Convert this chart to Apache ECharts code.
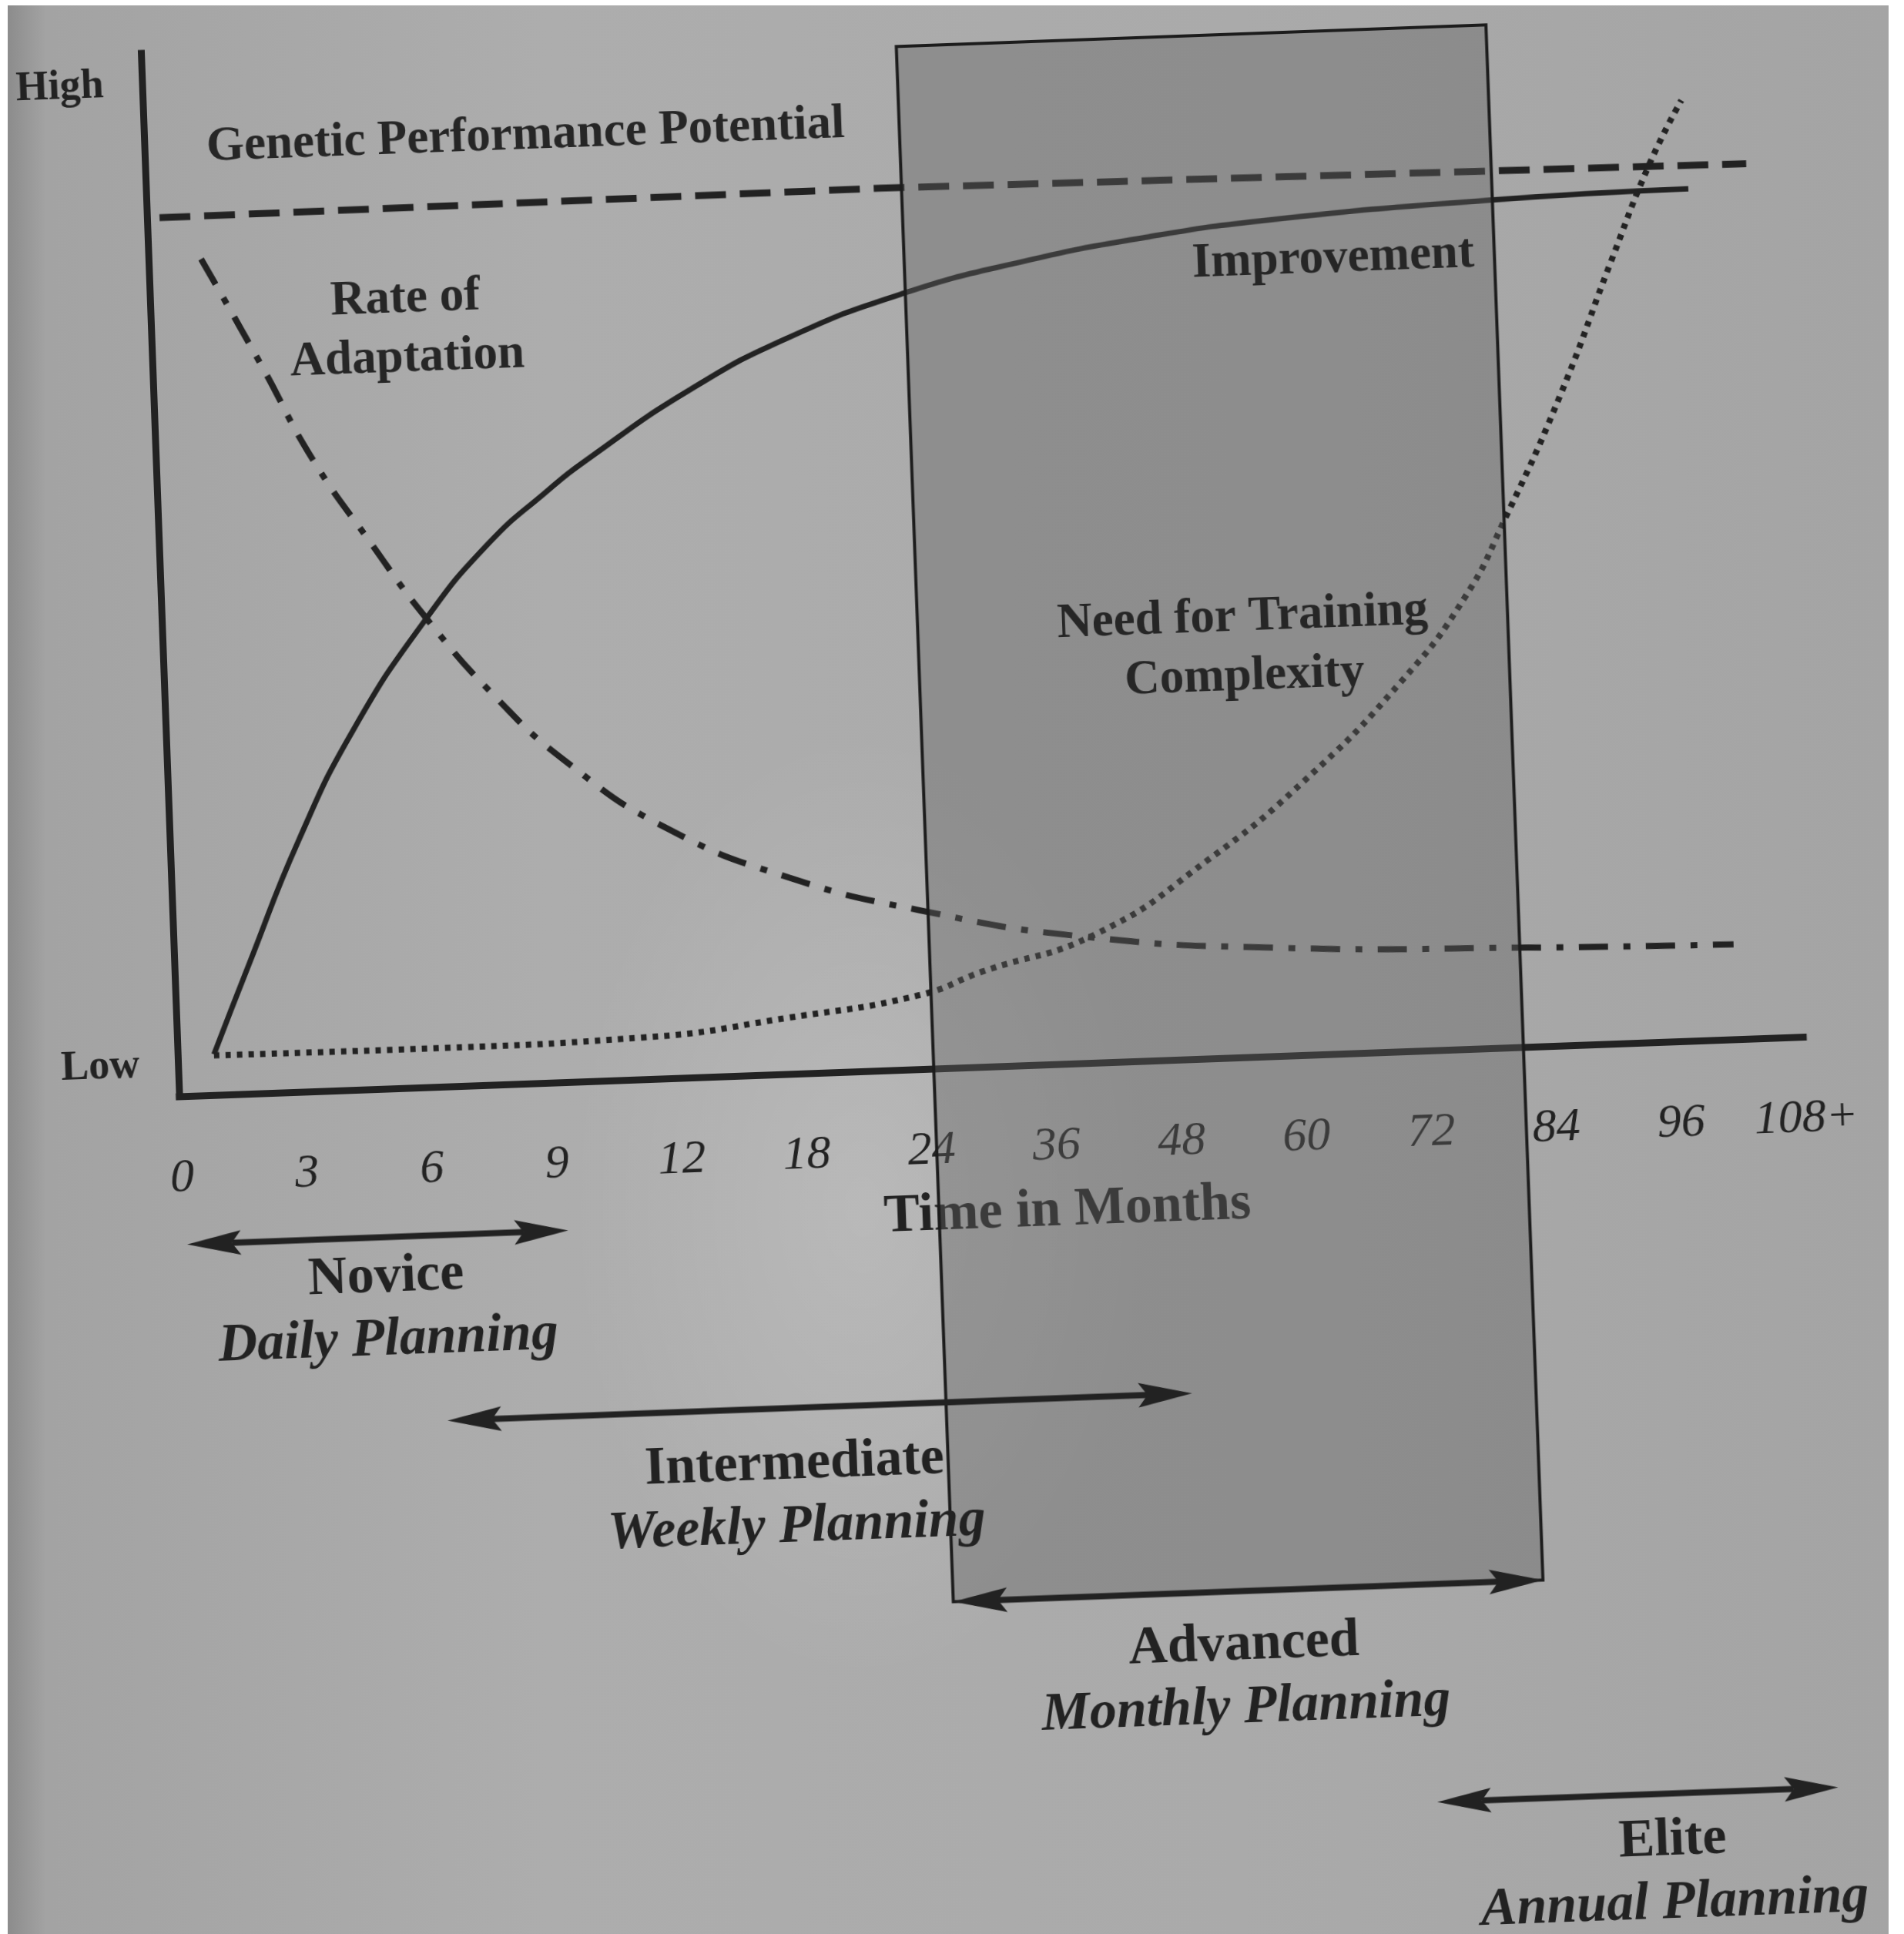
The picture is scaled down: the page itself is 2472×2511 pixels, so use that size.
<!DOCTYPE html>
<html><head><meta charset="utf-8">
<script src="https://cdn.jsdelivr.net/npm/echarts@6/dist/echarts.min.js"></script>
<style>
html,body{margin:0;padding:0;background:#ffffff;overflow:hidden;width:2472px;height:2511px;}
#paper{position:absolute;left:10px;top:7px;width:2442px;height:2504px;
  background:
    radial-gradient(ellipse 380px 620px at 1110px 1560px, rgba(255,255,255,0.16), rgba(255,255,255,0) 100%),
    linear-gradient(to right,#8c8c8c 0px,#a3a3a3 50px,#adadad 700px,#aaaaaa 1600px,#a4a4a4 2442px);}
#chart{position:absolute;left:-150px;top:-150px;width:2772px;height:2811px;
  transform:rotate(-2.1deg);transform-origin:1431px 1535px;}
</style></head>
<body><div id="paper"></div><div id="chart"></div>
<script>
// ---------- data (x = position index along the month scale, y = Low..High level) ----------
const xTickLabels = ['0','3','6','9','12','18','24','36','48','60','72','84','96','108+'];
const yTickValues = [3, 97];
const yTickLabels = ['Low', 'High'];

const geneticX = [0.10, 5.88, 12.80];
const geneticY = [84.2, 84.5, 83.8];

const improvementX = [0.29, 0.60, 1.03, 1.50, 2.11, 2.63, 3.10, 3.48, 4.28, 5.07, 6.01, 7.00, 8.00, 8.97, 10.70, 12.33];
const improvementY = [3.9, 12.5, 24.1, 34.5, 44.8, 51.8, 56.5, 59.8, 65.8, 70.4, 74.3, 77.0, 78.9, 80.1, 81.2, 81.6];

const adaptationX = [0.42, 0.88, 1.25, 1.70, 2.11, 2.64, 3.20, 3.97, 4.94, 5.98, 7.23, 8.78, 10.85, 12.47];
const adaptationY = [80.1, 69.5, 60.6, 52.2, 45.0, 37.2, 30.6, 24.0, 18.8, 15.2, 12.2, 10.4, 9.5, 9.1];

const complexityX = [0.29, 2.15, 3.72, 4.90, 5.95, 6.45, 7.39, 8.29, 9.08, 9.88, 10.42, 10.77, 11.25, 11.69, 12.03, 12.30];
const complexityY = [3.8, 3.7, 4.0, 5.4, 7.1, 9.1, 12.4, 19.0, 26.2, 35.3, 43.2, 50.7, 62.4, 74.9, 84.2, 90.1];

const advancedBoxX = [6.04, 10.76];
const advancedBoxY = [98.0, -51.1];

const curveNames = ['Genetic Performance Potential', 'Rate of\nAdaptation', 'Improvement', 'Need for Training\nComplexity'];
const curveNameX = [3.05, 2.04, 9.47, 8.64];
const curveNameY = [90.7, 72.65, 76.1, 39.25];

const levelNames = ['Novice', 'Intermediate', 'Advanced', 'Elite'];
const planningNames = ['Daily Planning', 'Weekly Planning', 'Monthly Planning', 'Annual Planning'];
const levelStart = [0.02, 2.05, 6.04, 9.85];
const levelEnd = [3.07, 8.01, 10.76, 13.06];
const levelArrowY = [-14.2, -32.0, -51.1, -72.0];
const levelLabelX = [1.60, 4.81, 8.35, 11.72];
const levelLabelY = [-21.1, -40.45, -59.35, -79.55];

// ---------- layout ----------
const PAD = 150;
const W = 2472 + 2 * PAD, H = 2511 + 2 * PAD;
const X0 = 232 + PAD, XU = 162.3, Y0 = 1385 + PAD, YU = 13.55;
const SERIF = "'Liberation Serif','DejaVu Serif','Times New Roman',serif";
const INK = '#222222';

function pairs(xs, ys) { return xs.map((x, i) => [x, ys[i]]); }

const chart = echarts.init(document.getElementById('chart'), null, {renderer: 'canvas'});

const option = {
  animation: false,
  backgroundColor: 'transparent',
  grid: [
    {left: X0, right: W - (X0 + 13 * XU), top: Y0 - 100 * YU, bottom: H - Y0},
    {left: X0 - 0.5 * XU, right: W - (X0 + 13.5 * XU), top: Y0 - 100 * YU, bottom: H - (Y0 + 90 * YU)}
  ],
  xAxis: [
    {
      type: 'value', gridIndex: 0, min: 0, max: 13, interval: 1,
      axisLine: {lineStyle: {color: INK, width: 9, cap: 'square'}},
      axisTick: {show: false}, splitLine: {show: false},
      axisLabel: {
        formatter: v => (xTickLabels[v] !== undefined ? xTickLabels[v] : ''),
        fontFamily: SERIF, fontStyle: 'italic', fontSize: 62, color: INK, margin: 76
      },
      name: 'Time in Months', nameLocation: 'middle', nameGap: 156,
      nameTextStyle: {fontFamily: SERIF, fontWeight: 'bold', fontSize: 70, color: INK, padding: [0, 0, 0, 184]}
    },
    {type: 'value', gridIndex: 1, min: -0.5, max: 13.5, show: false}
  ],
  yAxis: [
    {
      type: 'value', gridIndex: 0, min: 0, max: 100, interval: 100,
      axisLine: {show: true, lineStyle: {color: INK, width: 9, cap: 'square'}},
      axisTick: {show: false}, splitLine: {show: false},
      axisLabel: {
        customValues: yTickValues,
        formatter: v => { const i = yTickValues.indexOf(v); return i >= 0 ? yTickLabels[i] : ''; },
        fontFamily: SERIF, fontWeight: 'bold', fontSize: 54, color: INK, margin: 50
      }
    },
    {type: 'value', gridIndex: 1, min: -90, max: 100, show: false}
  ],
  series: [
    {
      type: 'line', name: 'Genetic Performance Potential', xAxisIndex: 0, yAxisIndex: 0,
      data: pairs(geneticX, geneticY), symbol: 'none', smooth: false, z: 3,
      lineStyle: {color: INK, width: 9, type: [40, 18], cap: 'butt'}
    },
    {
      type: 'line', name: 'Improvement', xAxisIndex: 0, yAxisIndex: 0,
      data: pairs(improvementX, improvementY), symbol: 'none', smooth: 0.5, z: 3,
      lineStyle: {color: INK, width: 7}
    },
    {
      type: 'line', name: 'Rate of Adaptation', xAxisIndex: 0, yAxisIndex: 0,
      data: pairs(adaptationX, adaptationY), symbol: 'none', smooth: 0.5, z: 3,
      lineStyle: {color: INK, width: 8, type: [38, 20, 9, 20], cap: 'butt'}
    },
    {
      type: 'line', name: 'Need for Training Complexity', xAxisIndex: 0, yAxisIndex: 0,
      data: pairs(complexityX, complexityY), symbol: 'none', smooth: 0.5, z: 3,
      lineStyle: {color: INK, width: 8, type: [7, 8], cap: 'butt'}
    },
    {
      type: 'custom', name: 'Advanced zone', xAxisIndex: 1, yAxisIndex: 1, z: 4, clip: false, silent: true,
      data: [[advancedBoxX[0], advancedBoxX[1], advancedBoxY[0], advancedBoxY[1]]],
      encode: {x: [0, 1], y: [2, 3]},
      renderItem: (params, api) => {
        const p1 = api.coord([api.value(0), api.value(2)]);
        const p2 = api.coord([api.value(1), api.value(3)]);
        return {
          type: 'rect',
          shape: {x: p1[0], y: p1[1], width: p2[0] - p1[0], height: p2[1] - p1[1]},
          style: {fill: 'rgba(98,98,98,0.40)', stroke: '#1c1c1c', lineWidth: 4}
        };
      }
    },
    {
      type: 'custom', name: 'Stages', xAxisIndex: 1, yAxisIndex: 1, z: 6, clip: false, silent: true,
      data: levelStart.map((s, i) => [s, levelEnd[i], levelArrowY[i]]),
      encode: {x: [0, 1], y: 2},
      renderItem: (params, api) => {
        const a = api.coord([api.value(0), api.value(2)]);
        const b = api.coord([api.value(1), api.value(2)]);
        const L = 70, HW = 16, N = 12, y = a[1];
        return {
          type: 'group',
          children: [
            {type: 'line', shape: {x1: a[0] + L - N, y1: y, x2: b[0] - L + N, y2: y},
             style: {stroke: INK, lineWidth: 8}},
            {type: 'polygon', shape: {points: [[a[0], y], [a[0] + L, y - HW], [a[0] + L - N, y], [a[0] + L, y + HW]]},
             style: {fill: INK}},
            {type: 'polygon', shape: {points: [[b[0], y], [b[0] - L, y - HW], [b[0] - L + N, y], [b[0] - L, y + HW]]},
             style: {fill: INK}}
          ]
        };
      }
    },
    {
      type: 'scatter', name: 'Curve names', xAxisIndex: 1, yAxisIndex: 1, z: 7, silent: true,
      symbolSize: 0, itemStyle: {opacity: 1},
      data: curveNames.map((t, i) => ({value: [curveNameX[i], curveNameY[i]], name: t})),
      label: {
        show: true, position: 'inside', formatter: '{b}', align: 'center', opacity: 1,
        fontFamily: SERIF, fontWeight: 'bold', fontSize: 63, lineHeight: 77, color: '#262626'
      }
    },
    {
      type: 'scatter', name: 'Stage names', xAxisIndex: 1, yAxisIndex: 1, z: 7, silent: true,
      symbolSize: 0, itemStyle: {opacity: 1},
      data: levelNames.map((t, i) => ({value: [levelLabelX[i], levelLabelY[i]], name: String(i)})),
      label: {
        show: true, position: 'inside', align: 'center', opacity: 1,
        formatter: p => '{t|' + levelNames[+p.name] + '}\n{s|' + planningNames[+p.name] + '}',
        rich: {
          t: {fontFamily: SERIF, fontWeight: 'bold', fontSize: 70, lineHeight: 82, color: INK, align: 'center'},
          s: {fontFamily: SERIF, fontWeight: 'bold', fontStyle: 'italic', fontSize: 70, lineHeight: 82, color: INK, align: 'center'}
        }
      }
    }
  ]
};
chart.setOption(option);
</script>
</body></html>
